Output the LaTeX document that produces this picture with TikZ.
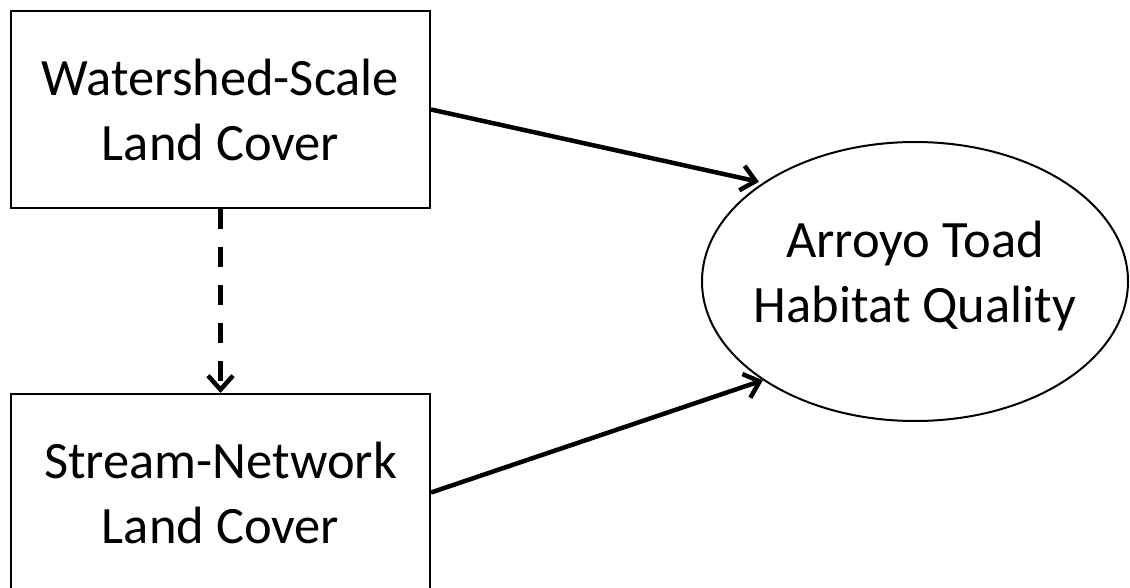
\documentclass[tikz,border=0pt]{standalone}
\usepackage{fontspec}
\setmainfont{Carlito}
\usetikzlibrary{arrows.meta,shapes.geometric}
\begin{document}
\begin{tikzpicture}[x=1pt,y=-1pt,
  lbl/.style={font=\fontsize{52.5}{65}\selectfont, align=center},
  boxnode/.style={lbl, draw, line width=2pt, minimum width=419pt, minimum height=197pt, inner sep=0pt},
  ellnode/.style={draw, ellipse, line width=2pt, minimum width=426pt, minimum height=279pt, inner sep=0pt},
  conn/.style={line width=4.5pt, -{Straight Barb[length=14pt,width=25pt,line width=4.5pt]}}
]
\clip (0,0) rectangle (1130,588);
\fill[white] (0,0) rectangle (1130,588);
\node[boxnode] (W) at (220.5,109.5) {Watershed-Scale\\Land Cover};
\node[boxnode] (S) at (220.5,492.5) {Stream-Network\\Land Cover};
\node[ellnode] (E) at (915,281.5) {};
\node[lbl] (ET) at (915,276) {Arroyo Toad\\Habitat Quality};
\draw[conn, shorten >=4pt] (W.east) -- (E.147);
\draw[conn] (S.east) -- (E.213);
\draw[conn, dash pattern=on 20pt off 18pt, line width=5pt] (W.south) -- (S.north);
\end{tikzpicture}
\end{document}
